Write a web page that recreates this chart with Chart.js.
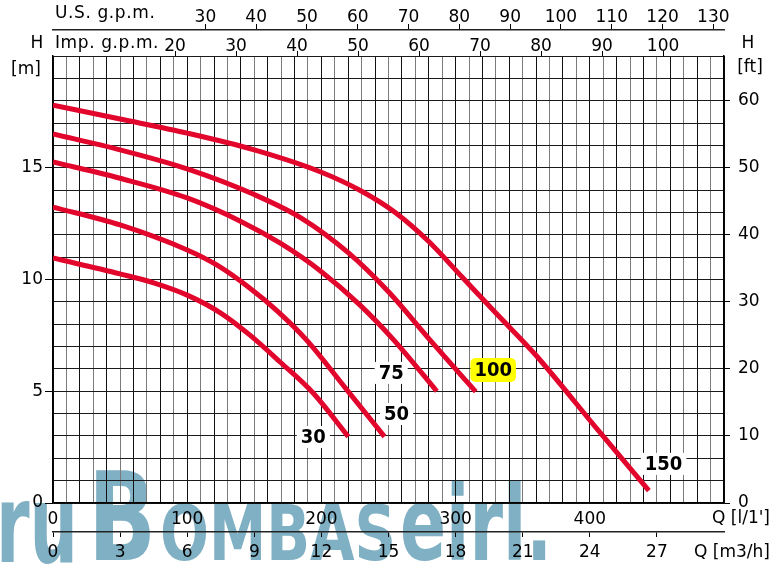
<!DOCTYPE html>
<html lang="es">
<head>
<meta charset="UTF-8">
<title>Curvas H-Q</title>
<script src="https://cdn.jsdelivr.net/npm/chart.js"></script>
<style>
    html, body { margin: 0; padding: 0; background: #fff; }
    .chart-container { width: 779px; height: 566px; position: relative; }
</style>
</head>
<body>
<div class="chart-container"><canvas id="curveChart"></canvas></div>
<script>
// curvas H [m] vs Q [l/min]
const q30 = [0, 50, 75, 100, 125, 147, 169, 194, 220];
const h30 = [10.96, 10.25, 9.85, 9.3, 8.5, 7.5, 6.32, 4.91, 2.97];
const q50 = [0, 50, 100, 122, 147, 167, 189, 219, 247];
const h50 = [13.24, 12.44, 11.32, 10.65, 9.6, 8.6, 7.29, 5.06, 2.97];
const q75 = [0, 50, 100, 140, 170, 200, 228, 254, 286];
const h75 = [15.26, 14.53, 13.65, 12.6, 11.6, 10.35, 8.9, 7.29, 5.0];
const q100 = [0, 50, 100, 150, 185, 220, 250, 281, 315];
const h100 = [16.51, 15.8, 14.95, 13.8, 12.75, 11.2, 9.45, 7.29, 4.98];
const q150 = [0, 50, 100, 150, 200, 230, 255, 280, 305, 330, 360, 406, 444];
const h150 = [17.8, 17.18, 16.55, 15.8, 14.8, 13.95, 13.0, 11.7, 10.1, 8.5, 6.6, 3.27, 0.55];

// etiquetas de curvas
const curveNames = ['30', '50', '75', '100', '150'];
const labelQ = [194, 256, 252, 328, 455];
const labelH = [2.95, 3.98, 5.82, 5.95, 1.75];

// marcas de ejes
const lpmTicks = [0, 100, 200, 300, 400];
const m3hTicks = [0, 3, 6, 9, 12, 15, 18, 21, 24, 27];
const usGpmTicks = [30, 40, 50, 60, 70, 80, 90, 100, 110, 120, 130];
const impGpmTicks = [20, 30, 40, 50, 60, 70, 80, 90, 100];
const mTicks = [0, 5, 10, 15];
const ftTicks = [0, 10, 20, 30, 40, 50, 60];

const RED = '#e2062c';
const FONT = '"DejaVu Sans", sans-serif';
const BOLD = '"DejaVu Sans Condensed", "DejaVu Sans", sans-serif';
const tickFont = { family: FONT, size: 17 };

function pairs(qs, hs) {
    return qs.map((q, i) => ({ x: q, y: hs[i] }));
}

function fixed(list) {
    return scale => { scale.ticks = list.map(v => ({ value: v })); };
}

function steps(max, step) {
    const out = [];
    for (let v = 0; v <= max + 1e-9; v += step) out.push({ value: Math.round(v * 100) / 100 });
    return out;
}

const extras = {
    id: 'extras',
    beforeDraw(chart) {
        const ctx = chart.ctx;
        ctx.save();
        ctx.fillStyle = '#fff';
        ctx.fillRect(0, 0, chart.width, chart.height);
        // marca de agua
        ctx.fillStyle = '#80b0c4';
        ctx.textBaseline = 'alphabetic';
        ctx.textAlign = 'left';
        ctx.font = 'bold 108px ' + BOLD;
        ctx.fillText('ru', -4, 562, 82);
        ctx.font = 'bold 123px ' + BOLD;
        ctx.fillText('B', 88, 560, 68);
        ctx.font = 'bold 76px ' + BOLD;
        ctx.fillText('OMBAS', 160, 560, 236);
        ctx.font = 'bold 104px ' + BOLD;
        ctx.fillText('eirl.', 400, 560, 152);
        ctx.restore();
    },
    afterDatasetsDraw(chart) {
        const ctx = chart.ctx;
        const x = chart.scales.x, y = chart.scales.y;
        ctx.save();
        ctx.font = 'bold 20px ' + BOLD;
        ctx.textAlign = 'center';
        ctx.textBaseline = 'middle';
        curveNames.forEach((name, i) => {
            const px = x.getPixelForValue(labelQ[i]);
            const py = y.getPixelForValue(labelH[i]);
            const w = ctx.measureText(name).width + 8;
            if (name === '100') {
                ctx.fillStyle = '#ffff00';
                ctx.beginPath();
                ctx.roundRect(px - w / 2, py - 12, w, 24, 5);
                ctx.fill();
            } else {
                ctx.fillStyle = '#fff';
                ctx.fillRect(px - w / 2, py - 11, w, 22);
            }
            ctx.fillStyle = '#000';
            ctx.fillText(name, px, py + 1);
        });
        ctx.restore();
    },
    afterDraw(chart) {
        const ctx = chart.ctx;
        const a = chart.chartArea;
        ctx.save();
        ctx.fillStyle = '#000';
        ctx.font = '17px ' + FONT;
        ctx.textBaseline = 'middle';
        ctx.letterSpacing = '0.6px';
        ctx.textAlign = 'left';
        ctx.fillText('U.S. g.p.m.', a.left + 2, 14);
        ctx.fillText('Imp. g.p.m.', a.left + 2, 44);
        ctx.letterSpacing = '0px';
        ctx.textAlign = 'center';
        ctx.fillText('H', 37, 44);
        ctx.fillText('H', 748, 44);
        ctx.fillText('[m]', 26, 70);
        ctx.fillText('[ft]', 750, 68);
        ctx.textAlign = 'right';
        ctx.fillText("Q [l/1']", 770, 519);
        ctx.fillText('Q [m3/h]', 770, 553);
        ctx.restore();
    }
};

new Chart(document.getElementById('curveChart'), {
    type: 'line',
    data: {
        datasets: [
            { label: '30', data: pairs(q30, h30) },
            { label: '50', data: pairs(q50, h50) },
            { label: '75', data: pairs(q75, h75) },
            { label: '100', data: pairs(q100, h100) },
            { label: '150', data: pairs(q150, h150) }
        ].map(d => Object.assign(d, {
            borderColor: RED,
            borderWidth: 5,
            borderCapStyle: 'butt',
            pointRadius: 0,
            fill: false,
            cubicInterpolationMode: 'monotone',
            xAxisID: 'x',
            yAxisID: 'y'
        }))
    },
    options: {
        responsive: true,
        maintainAspectRatio: false,
        animation: false,
        layout: { padding: 0 },
        plugins: { legend: { display: false }, tooltip: { enabled: false } },
        scales: {
            x: {
                type: 'linear', position: 'bottom', weight: 0,
                min: 0, max: 500,
                afterBuildTicks: scale => { scale.ticks = steps(500, 10); },
                afterFit: scale => { scale.height = 29; },
                grid: {
                    color: ctx => (ctx.tick && ctx.tick.value % 20 === 0) ? '#111' : '#7a7a7a',
                    lineWidth: 1,
                    drawTicks: false
                },
                border: { display: true, color: '#000', width: 1.5 },
                ticks: {
                    autoSkip: false, maxRotation: 0, padding: 6,
                    color: '#000', font: tickFont,
                    callback: v => lpmTicks.includes(v) ? String(v) : ''
                }
            },
            xm3: {
                type: 'linear', position: 'bottom', weight: 1,
                min: 0, max: 30,
                afterBuildTicks: fixed(m3hTicks),
                afterFit: scale => { scale.height = 34; },
                grid: { drawOnChartArea: false, drawTicks: true, tickLength: 5, color: '#000' },
                border: { display: true, color: '#222', width: 1.5 },
                ticks: { autoSkip: false, maxRotation: 0, padding: 5, color: '#000', font: tickFont }
            },
            xus: {
                type: 'linear', position: 'top', weight: 1,
                min: 0, max: 500 / 3.785,
                afterBuildTicks: fixed(usGpmTicks),
                afterFit: scale => { scale.height = 30; },
                grid: { drawOnChartArea: false, drawTicks: true, tickLength: 6, color: '#000' },
                border: { display: true, color: '#222', width: 1.5 },
                ticks: { autoSkip: false, maxRotation: 0, padding: -4, color: '#000', font: tickFont }
            },
            ximp: {
                type: 'linear', position: 'top', weight: 0,
                min: 0, max: 500 / 4.546,
                afterBuildTicks: fixed(impGpmTicks),
                afterFit: scale => { scale.height = 26; },
                grid: { drawOnChartArea: false, drawTicks: true, tickLength: 5, color: '#000' },
                border: { display: false },
                ticks: { autoSkip: false, maxRotation: 0, padding: -6, color: '#000', font: tickFont }
            },
            y: {
                type: 'linear', position: 'left',
                min: 0, max: 20,
                afterBuildTicks: scale => { scale.ticks = steps(20, 1); },
                afterFit: scale => { scale.width = 53; },
                grid: {
                    color: '#1a1a1a',
                    lineWidth: 1,
                    tickLength: 8,
                    tickColor: ctx => (ctx.tick && mTicks.includes(ctx.tick.value)) ? '#000' : 'rgba(0,0,0,0)'
                },
                border: { display: true, color: '#000', width: 1.5 },
                ticks: {
                    autoSkip: false, padding: 2, color: '#000', font: tickFont,
                    callback: v => mTicks.includes(v) ? String(v) : ''
                }
            },
            yft: {
                type: 'linear', position: 'right',
                min: 0, max: 66.67,
                afterBuildTicks: fixed(ftTicks),
                afterFit: scale => { scale.width = 55; },
                grid: { drawOnChartArea: false, drawTicks: true, tickLength: 6, color: '#000' },
                border: { display: true, color: '#000', width: 1.5 },
                ticks: { autoSkip: false, padding: 8, color: '#000', font: tickFont }
            }
        }
    },
    plugins: [extras]
});
</script>
</body>
</html>
